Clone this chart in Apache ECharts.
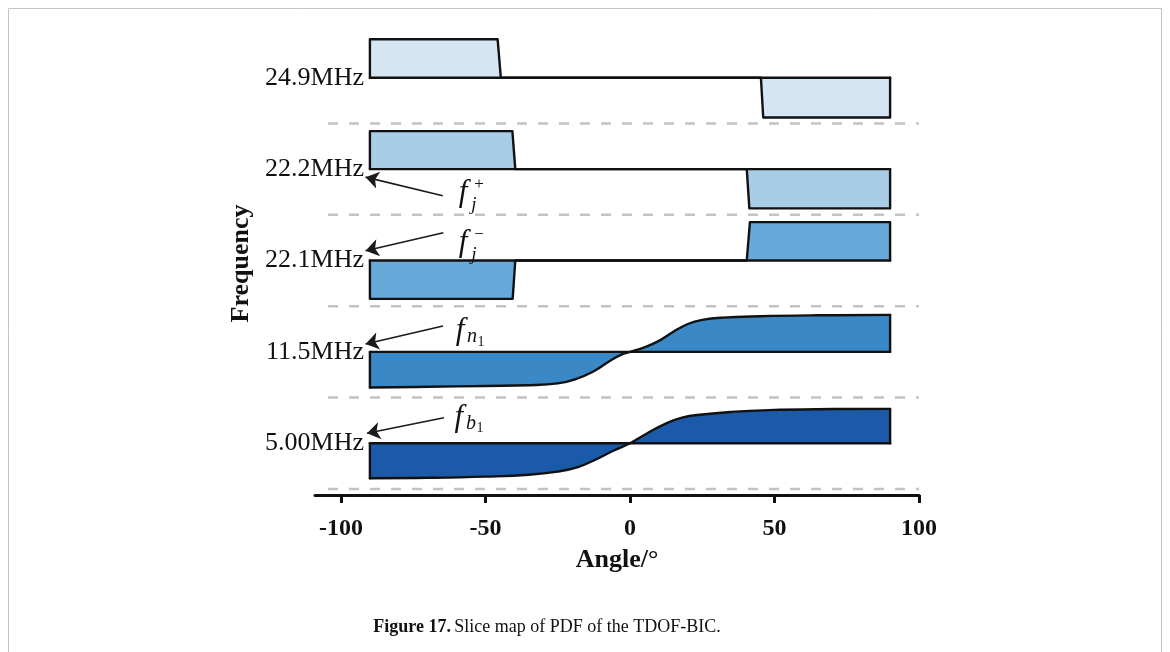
<!DOCTYPE html>
<html>
<head>
<meta charset="utf-8">
<script src="https://cdn.jsdelivr.net/npm/echarts@6/dist/echarts.min.js"></script>
<style>
  html, body { margin: 0; padding: 0; background: #fff; }
  #main { width: 1170px; height: 652px; }
</style>
</head>
<body>
<div id="main"></div>
<script>
// Angle ticks and frequency slice labels (bottom slice first)
const angleTicks = [-100, -50, 0, 50, 100];
const freqLabels = ['5.00MHz', '11.5MHz', '22.1MHz', '22.2MHz', '24.9MHz'];

// PDF slices: [angle in degrees, normalised PDF offset from the slice baseline]
// Smooth slices (bound modes)
const pdf500 = [[-90, -0.383], [-70, -0.378], [-50, -0.365], [-35, -0.345],
  [-25, -0.31], [-18, -0.26], [-12, -0.18], [-6, -0.085],
  [0, 0], [6, 0.11], [12, 0.21], [18, 0.28], [25, 0.315],
  [35, 0.343], [48, 0.363], [65, 0.373], [90, 0.376]];
const pdf115 = [[-90, -0.39], [-70, -0.382], [-50, -0.373], [-35, -0.365],
  [-25, -0.345], [-19, -0.3], [-13, -0.22], [-7, -0.1], [-3, -0.03], [0, 0],
  [5, 0.05], [10, 0.12], [15, 0.22], [20, 0.305], [25, 0.35],
  [32, 0.375], [45, 0.39], [65, 0.4], [90, 0.405]];
// Step slices (jump modes)
const pdf221 = [[-90, 0], [-90, -0.42], [-40.6, -0.42], [-39.7, 0], [40.4, 0], [41.5, 0.42], [90, 0.42], [90, 0]];
const pdf222 = [[-90, 0], [-90, 0.415], [-40.7, 0.415], [-39.7, 0], [40.4, 0], [41.3, -0.43], [90, -0.43], [90, 0]];
const pdf249 = [[-90, 0], [-90, 0.42], [-45.8, 0.42], [-44.7, 0], [45.3, 0], [46.1, -0.435], [90, -0.435], [90, 0]];

const slicePdfs = [pdf500, pdf115, pdf221, pdf222, pdf249];
const smoothSlice = [true, true, false, false, false];
const sliceColors = ['#1a5aa8', '#3a88c5', '#67a9d9', '#a9cde7', '#d5e5f4'];

// Dashed separators between slices
const dividers = [-0.5, 0.5, 1.5, 2.5, 3.5];
const dividerSpan = [-104.5, 100];

// Frequency annotations: arrow [tail, head] and the symbol placed at its tail
const arrows = [
  [[-64.8, 2.709], [-91.5, 2.912]],
  [[-64.6, 2.304], [-91.5, 2.107]],
  [[-64.7, 1.284], [-91.5, 1.086]],
  [[-64.4, 0.280], [-91.0, 0.109]]
];
const notes = [
  { at: [-57.8, 2.739], sup: '+', sub: 'j' },
  { at: [-57.8, 2.191], sup: '\u2212', sub: 'j' },
  { at: [-58.8, 1.229], sub: 'n', subsub: '1' },
  { at: [-59.2, 0.282], sub: 'b', subsub: '1' }
];

const SERIF = '"Liberation Serif", "Times New Roman", serif';
const INK = '#111';
const EDGE = 2.4;
const series = [];

dividers.forEach(y => {
  series.push({
    type: 'line', data: dividerSpan.map(a => [a, y]), symbol: 'none', silent: true, z: 1,
    lineStyle: { color: '#c3c3c3', width: 2.5, type: [10, 11] }
  });
});

slicePdfs.forEach((pts, i) => {
  const smooth = smoothSlice[i];
  series.push({
    type: 'line', data: pts.map(([a, v]) => [a, i + v]), symbol: 'none', silent: true, z: 2,
    smooth: smooth ? 0.45 : false,
    lineStyle: { color: INK, width: EDGE, join: 'round', cap: 'round' },
    areaStyle: { origin: i, color: sliceColors[i], opacity: 1 }
  });
  // slice baseline
  series.push({
    type: 'line', data: [[-90, i], [90, i]], symbol: 'none', silent: true, z: 3,
    lineStyle: { color: INK, width: EDGE, cap: 'round' }
  });
  // closing edges at both ends of a smooth slice
  if (smooth) {
    [pts[0], pts[pts.length - 1]].forEach(([a, v]) => {
      series.push({
        type: 'line', data: [[a, i], [a, i + v]], symbol: 'none', silent: true, z: 3,
        lineStyle: { color: INK, width: EDGE, cap: 'round' }
      });
    });
  }
});

// arrows
series.push({
  type: 'line', data: [], symbol: 'none', silent: true, z: 4,
  markLine: {
    silent: true, animation: false,
    symbol: ['none', 'arrow'], symbolSize: 13,
    label: { show: false },
    lineStyle: { color: '#1a1a1a', width: 1.6, type: 'solid' },
    data: arrows.map(([t, h]) => [{ coord: t }, { coord: h }])
  }
});

// math symbols f with super/subscripts
const mk = (at, text, size, style, offset) => ({
  value: at,
  label: { show: true, formatter: text, fontSize: size, fontStyle: style, offset, color: INK, fontFamily: SERIF, opacity: 1 }
});
const noteItems = [];
notes.forEach(n => {
  noteItems.push(mk(n.at, 'f', 31, 'italic', [0, 0]));
  if (n.sup) {
    noteItems.push(mk(n.at, n.sup, 17, 'normal', [16, -8]));
    noteItems.push(mk(n.at, n.sub, 19, 'italic', [11, 12]));
  }
  if (n.subsub) {
    noteItems.push(mk(n.at, n.sub, 20, 'italic', [12, 6]));
    noteItems.push(mk(n.at, n.subsub, 14, 'normal', [21, 11]));
  }
});
series.push({
  type: 'scatter', data: noteItems, symbolSize: 1, silent: true, z: 5,
  itemStyle: { color: 'rgba(255,255,255,0)', opacity: 1 },
  label: { show: true, position: 'inside', color: INK, fontFamily: SERIF }
});

const option = {
  backgroundColor: '#fff',
  animation: false,
  grid: { left: 315, right: 251, top: 32, bottom: 157, containLabel: false },
  xAxis: {
    type: 'value', min: -109, max: 100,
    name: 'Angle/\u00b0', nameLocation: 'middle', nameGap: 52,
    nameTextStyle: { fontFamily: SERIF, fontSize: 26, fontWeight: 'bold', color: INK },
    axisLine: { show: true, onZero: false, lineStyle: { color: INK, width: 3 } },
    axisTick: { show: true, customValues: angleTicks, length: 8, lineStyle: { color: INK, width: 3 } },
    axisLabel: { customValues: angleTicks, margin: 22, fontFamily: SERIF, fontSize: 24, fontWeight: 'bold', color: INK },
    splitLine: { show: false }
  },
  yAxis: {
    type: 'value', min: -0.566, max: 4.5, offset: -53,
    name: 'Frequency', nameLocation: 'middle', nameGap: 113, nameRotate: 90,
    nameTextStyle: { fontFamily: SERIF, fontSize: 26, fontWeight: 'bold', color: INK },
    axisLine: { show: false }, axisTick: { show: false }, splitLine: { show: false },
    axisLabel: {
      customValues: [0, 1, 2, 3, 4], margin: 4,
      formatter: v => freqLabels[Math.round(v)],
      fontFamily: SERIF, fontSize: 26, color: INK
    }
  },
  graphic: [
    { type: 'rect', shape: { x: 8.5, y: 8.5, width: 1153, height: 700 },
      style: { fill: 'none', stroke: '#c4c4c4', lineWidth: 1 }, silent: true },
    { type: 'text', x: 547, y: 627,
      style: {
        text: '{b|Figure 17.} {r|Slice map of PDF of the TDOF-BIC.}',
        align: 'center', verticalAlign: 'middle',
        rich: {
          b: { fontFamily: SERIF, fontSize: 18, fontWeight: 'bold', fill: INK },
          r: { fontFamily: SERIF, fontSize: 18, fill: INK }
        }
      }, silent: true }
  ],
  series
};

const chart = echarts.init(document.getElementById('main'));
chart.setOption(option);
</script>
</body>
</html>
